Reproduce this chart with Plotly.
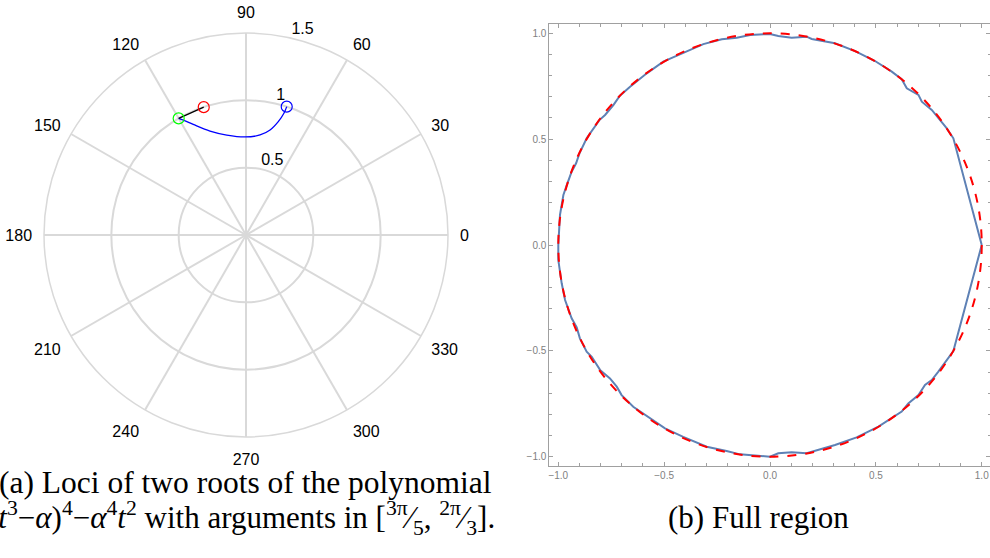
import plotly.graph_objects as go

# ---------------- data: panel (a) polar loci ----------------
blue_theta = [120, 118.6, 115.5, 109.1, 100.9, 90.6, 82, 77.1, 74.1, 72.7, 72.4]
blue_r = [1.0, 0.972, 0.91, 0.817, 0.756, 0.728, 0.75, 0.80, 0.875, 0.947, 1.0]
black_theta = [108.3, 120]
black_r = [1.0, 1.0]
start_blue = (1.0, 72.4)
start_red = (1.0, 108.3)
end_green = (1.0, 120)
angle_ticks = [0, 30, 60, 90, 120, 150, 180, 210, 240, 270, 300, 330]
angle_labels = [str(a) for a in angle_ticks]
radial_ticks = [0.5, 1.0, 1.5]
radial_labels = ["0.5", "1", "1.5"]

# ---------------- data: panel (b) full region ----------------
curve_x = [1.0, 0.866, 0.835, 0.795, 0.764, 0.717, 0.701, 0.646, 0.622, 0.575, 0.496, 0.402,
           0.307, 0.197, 0.173, 0.102, 0.039, 0.0,
           -0.094, -0.157, -0.228, -0.315, -0.410, -0.504, -0.582, -0.661, -0.709, -0.740,
           -0.779, -0.806, -0.866, -0.900, -0.916, -0.937, -0.960, -0.976, -0.992, -1.0,
           -1.0, -0.984, -0.968, -0.953, -0.937, -0.913, -0.898, -0.866, -0.842, -0.803,
           -0.756, -0.724, -0.701, -0.646, -0.567, -0.496, -0.410, -0.299, -0.205, -0.142, 0.0,
           0.039, 0.102, 0.173, 0.307, 0.409, 0.512, 0.622, 0.653, 0.701, 0.732, 0.764,
           0.795, 0.835, 0.866, 1.0]
curve_y = [0.0, 0.504, 0.551, 0.598, 0.638, 0.677, 0.709, 0.740, 0.783, 0.819, 0.869, 0.916,
           0.953, 0.973, 0.984, 0.979, 0.987, 0.997,
           0.992, 0.979, 0.972, 0.949, 0.906, 0.866, 0.811, 0.748, 0.705, 0.661,
           0.614, 0.590, 0.504, 0.433, 0.386, 0.346, 0.283, 0.236, 0.142, 0.0,
           -0.071, -0.181, -0.260, -0.299, -0.346, -0.389, -0.441, -0.504, -0.528, -0.590,
           -0.630, -0.669, -0.709, -0.764, -0.819, -0.866, -0.906, -0.953, -0.973, -0.989, -1.0,
           -0.984, -0.979, -0.984, -0.945, -0.909, -0.858, -0.787, -0.748, -0.709, -0.661, -0.638,
           -0.598, -0.543, -0.501, 0.0]
unit_radius = 1.0
xy_ticks = [-1.0, -0.5, 0.0, 0.5, 1.0]
xy_labels = ["\u22121.0", "\u22120.5", "0.0", "0.5", "1.0"]

caption_a1 = "(a) Loci of two roots of the polynomial"
caption_a2 = ("(<i>t</i><sup>3</sup>\u2212<i>\u03b1</i>)<sup>4</sup>\u2212<i>\u03b1</i><sup>4</sup><i>t</i><sup>2</sup>"
              " with arguments in [<sup>3\u03c0</sup>\u2044<sub>5</sub>, <sup>2\u03c0</sup>\u2044<sub>3</sub>].")
caption_b = "(b) Full region"

GRID = "#D9D9D9"
FRAME = "#A0A0A0"
RLABEL_ANGLE = 77

font_sans = "Liberation Sans, Arial, sans-serif"
font_serif = "Liberation Serif, serif"

fig = go.Figure()

fig.add_trace(go.Scatterpolar(r=blue_r, theta=blue_theta, mode="lines",
                              line=dict(color="#0000FF", width=1.3, shape="spline"),
                              showlegend=False))
fig.add_trace(go.Scatterpolar(r=black_r, theta=black_theta, mode="lines",
                              line=dict(color="black", width=1.2), showlegend=False))
for pt, col in [(start_blue, "#0000FF"), (start_red, "#FF0000"), (end_green, "#00FF00")]:
    fig.add_trace(go.Scatterpolar(r=[pt[0]], theta=[pt[1]], mode="markers",
                                  marker=dict(symbol="circle-open", size=11, color=col,
                                              line=dict(width=1.2, color=col)),
                                  showlegend=False))
# radial tick labels (placed above-right of each ring, like the reference)
fig.add_trace(go.Scatterpolar(r=radial_ticks, theta=[RLABEL_ANGLE] * len(radial_ticks),
                              mode="text", text=radial_labels, textposition="top right",
                              textfont=dict(family=font_sans, size=16, color="black"),
                              showlegend=False, hoverinfo="skip", cliponaxis=False))

fig.add_trace(go.Scatter(x=curve_x, y=curve_y, mode="lines", xaxis="x", yaxis="y",
                         line=dict(color="#5E81B5", width=2), showlegend=False))

fig.add_shape(type="circle", xref="x", yref="y",
              x0=-unit_radius, y0=-unit_radius, x1=unit_radius, y1=unit_radius,
              line=dict(color="#FF0000", width=2, dash="dash"))

fig.update_layout(
    width=990, height=558, template="none",
    paper_bgcolor="white", plot_bgcolor="white",
    margin=dict(l=0, r=0, t=0, b=0),
    polar=dict(
        domain=dict(x=[44 / 990, 448 / 990], y=[1 - 437 / 558, 1 - 33 / 558]),
        bgcolor="white",
        angularaxis=dict(rotation=0, direction="counterclockwise",
                         tickmode="array", tickvals=angle_ticks, ticktext=angle_labels,
                         ticks="outside", ticklen=8, tickcolor="rgba(0,0,0,0)",
                         showline=True, linecolor=GRID, linewidth=1.5,
                         gridcolor=GRID, gridwidth=1.5,
                         tickfont=dict(family=font_sans, size=16, color="black")),
        radialaxis=dict(range=[0, 1.5], tickmode="array", tickvals=radial_ticks,
                        ticktext=radial_labels, angle=80, showticklabels=False,
                        showline=False, ticks="", gridcolor=GRID, gridwidth=1.5),
    ),
    xaxis=dict(domain=[549.3 / 990, 1.0], range=[-1.0425, 1.039], anchor="y",
               showline=True, linecolor=FRAME, linewidth=1, mirror="allticks",
               ticks="inside", ticklen=4, tickcolor=FRAME, tickwidth=1,
               tickmode="array", tickvals=xy_ticks, ticktext=xy_labels,
               tickfont=dict(family=font_sans, size=10, color="#7F7F7F"),
               minor=dict(dtick=0.1, tick0=0, ticks="inside", ticklen=2.5, tickcolor=FRAME, showgrid=False),
               showgrid=False, zeroline=False),
    yaxis=dict(domain=[1 - 465.7 / 558, 1 - 24.3 / 558], range=[-1.0425, 1.0425], anchor="x",
               showline=True, linecolor=FRAME, linewidth=1, mirror="allticks",
               ticks="inside", ticklen=4, tickcolor=FRAME, tickwidth=1,
               tickmode="array", tickvals=xy_ticks, ticktext=xy_labels,
               tickfont=dict(family=font_sans, size=10, color="#7F7F7F"),
               minor=dict(dtick=0.1, tick0=0, ticks="inside", ticklen=2.5, tickcolor=FRAME, showgrid=False),
               showgrid=False, zeroline=False),
    annotations=[
        dict(text=caption_a1, xref="paper", yref="paper", x=494 / 990, y=1 - 482 / 558,
             xanchor="right", yanchor="middle", showarrow=False,
             font=dict(family=font_serif, size=31.5, color="black")),
        dict(text=caption_a2, xref="paper", yref="paper", x=497 / 990, y=1 - 518 / 558,
             xanchor="right", yanchor="middle", showarrow=False,
             font=dict(family=font_serif, size=31, color="black")),
        dict(text=caption_b, xref="paper", yref="paper", x=758 / 990, y=1 - 517 / 558,
             xanchor="center", yanchor="middle", showarrow=False,
             font=dict(family=font_serif, size=31, color="black")),
    ],
)

fig.write_html("out.html", config={"displayModeBar": False},
               post_script="document.body.style.margin='0';document.body.style.overflow='hidden';")
